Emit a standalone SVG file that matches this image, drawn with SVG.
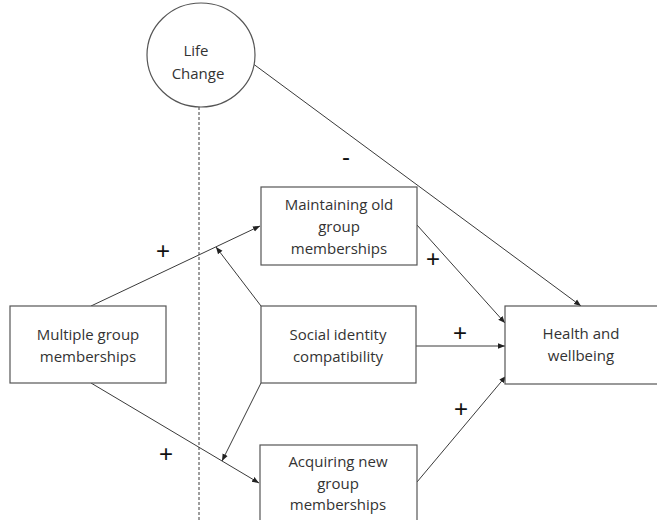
<svg xmlns="http://www.w3.org/2000/svg" width="657" height="520" viewBox="0 0 657 520">
<style>
.box{fill:#fff;stroke:#555;stroke-width:1.2}
.t{font-family:"Open Sans","Liberation Sans",sans-serif;font-size:15px;fill:#333;text-anchor:middle}
.s{font-family:"Liberation Sans",sans-serif;font-size:24px;fill:#111;text-anchor:middle}
.c{stroke:#3a3a3a;stroke-width:1;fill:none}
</style>
<defs>
<marker id="a" viewBox="0 0 10 10" refX="10" refY="5" markerWidth="7" markerHeight="7" orient="auto" markerUnits="userSpaceOnUse">
<path d="M0,1 L10,5 L0,9 z" fill="#222"/>
</marker>
</defs>
<rect width="657" height="520" fill="#fff"/>
<g id="connectors">
<line class="c" x1="199" y1="107" x2="199" y2="520" stroke-dasharray="3,2"/>
<line class="c" x1="91" y1="306" x2="260" y2="226" marker-end="url(#a)"/>
<line class="c" x1="261" y1="306" x2="216" y2="247" marker-end="url(#a)"/>
<line class="c" x1="91" y1="383" x2="259" y2="483" marker-end="url(#a)"/>
<line class="c" x1="261" y1="383" x2="222" y2="461" marker-end="url(#a)"/>
<line class="c" x1="417" y1="225" x2="505" y2="323" marker-end="url(#a)"/>
<line class="c" x1="416" y1="346" x2="505" y2="346" marker-end="url(#a)"/>
<line class="c" x1="417" y1="482" x2="506" y2="376" marker-end="url(#a)"/>
<line class="c" x1="252" y1="63" x2="581" y2="306" marker-end="url(#a)"/>
</g>
<g id="life-change">
<ellipse class="box" cx="201" cy="55" rx="54" ry="52"/>
<text class="t" x="196" y="56">Life</text>
<text class="t" x="198" y="79">Change</text>
</g>
<g id="maintaining">
<rect class="box" x="261" y="187" width="156" height="78"/>
<text class="t" x="339" y="210">Maintaining old</text>
<text class="t" x="339" y="232">group</text>
<text class="t" x="339" y="254">memberships</text>
</g>
<g id="multiple">
<rect class="box" x="10" y="306" width="156" height="77"/>
<text class="t" x="88" y="340">Multiple group</text>
<text class="t" x="88" y="362">memberships</text>
</g>
<g id="social">
<rect class="box" x="261" y="306" width="155" height="77"/>
<text class="t" x="338" y="340">Social identity</text>
<text class="t" x="338" y="362">compatibility</text>
</g>
<g id="acquiring">
<rect class="box" x="260" y="445" width="157" height="80"/>
<text class="t" x="338" y="467">Acquiring new</text>
<text class="t" x="338" y="489">group</text>
<text class="t" x="338" y="510">memberships</text>
</g>
<g id="health">
<rect class="box" x="505" y="306" width="154" height="78"/>
<text class="t" x="581" y="339">Health and</text>
<text class="t" x="581" y="361">wellbeing</text>
</g>
<g id="signs">
<text class="s" x="163" y="259">+</text>
<text class="s" x="166" y="462">+</text>
<text class="s" x="433" y="267">+</text>
<text class="s" x="460" y="341">+</text>
<text class="s" x="461" y="417">+</text>
<text class="s" x="346" y="165">-</text>
</g>
</svg>
